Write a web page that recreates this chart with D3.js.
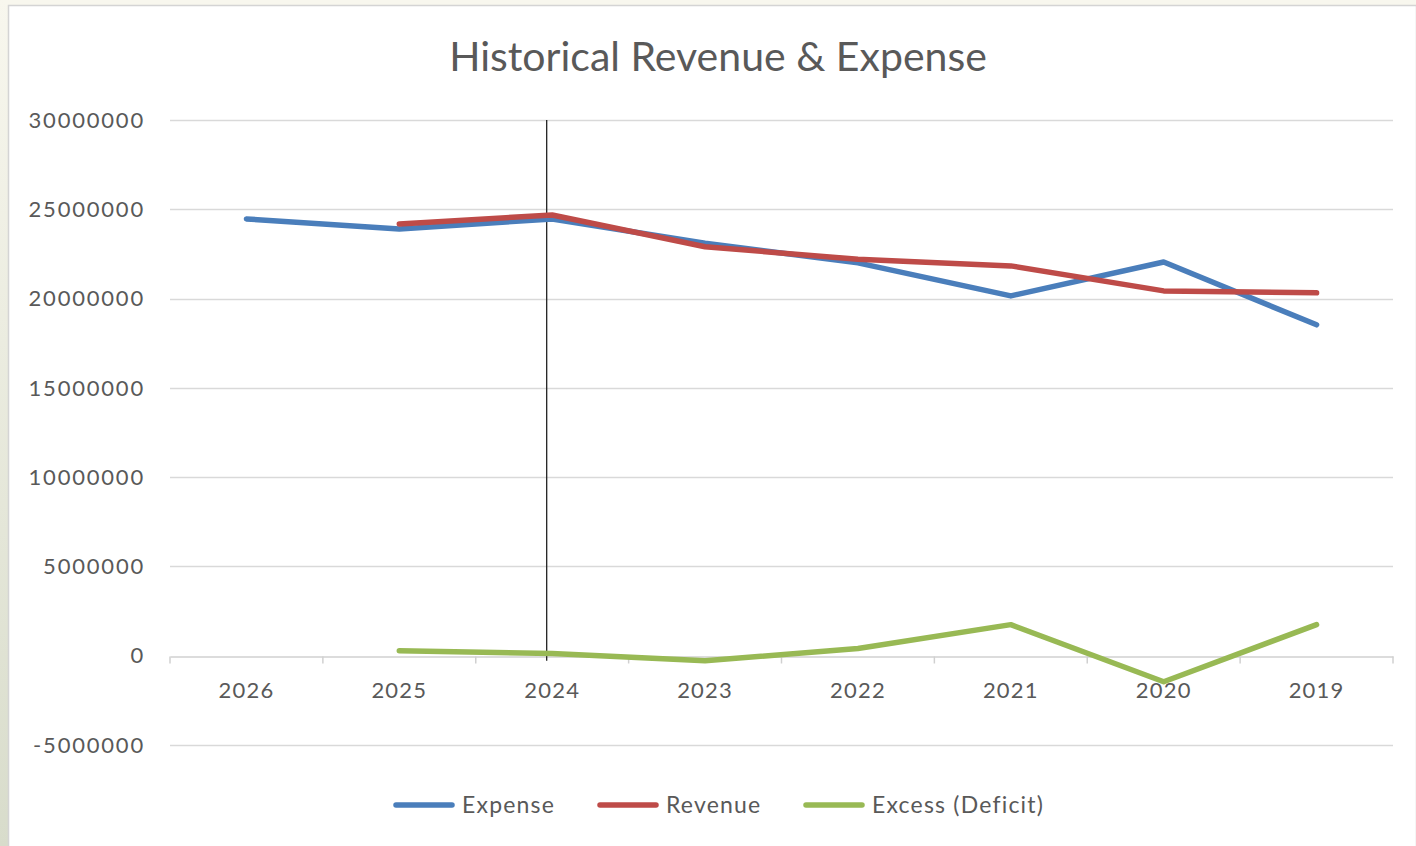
<!DOCTYPE html>
<html>
<head>
<meta charset="utf-8">
<script src="https://cdn.jsdelivr.net/npm/d3@7"></script>
<style>
  html, body { margin: 0; padding: 0; background: #f8f7ee; }
  svg { display: block; }
</style>
</head>
<body>
<svg id="chart" width="1416" height="846"></svg>
<script>
// ---- data ----
const categories = ["2026", "2025", "2024", "2023", "2022", "2021", "2020", "2019"];
const expense = [24460000, 23900000, 24460000, 23100000, 22000000, 20150000, 22050000, 18530000];
const revenue = [null, 24180000, 24680000, 22900000, 22200000, 21830000, 20430000, 20320000];
const excess  = [null, 280000, 120000, -280000, 400000, 1740000, -1460000, 1740000];
const yTicks = [-5000000, 0, 5000000, 10000000, 15000000, 20000000, 25000000, 30000000];
const seriesNames = ["Expense", "Revenue", "Excess (Deficit)"];
const seriesColors = ["#4a7ebb", "#be4b48", "#98b954"];
const markerCategory = "2024";

// ---- layout ----
const W = 1416, H = 846;
const plot = { left: 170, right: 1393, top: 120, bottom: 745 };
const svg = d3.select("#chart");

// background panel
svg.append("rect").attr("x", 0).attr("y", 0).attr("width", W).attr("height", H).attr("fill", "#f8f7ee");
const grad = svg.append("defs").append("linearGradient").attr("id", "lg").attr("x1", 0).attr("y1", 0).attr("x2", 0).attr("y2", 1);
grad.append("stop").attr("offset", "0%").attr("stop-color", "#f8f7ee");
grad.append("stop").attr("offset", "100%").attr("stop-color", "#d8dccb");
svg.append("rect").attr("x", 0).attr("y", 0).attr("width", 8).attr("height", H).attr("fill", "url(#lg)");
svg.append("rect").attr("x", 8.5).attr("y", 5.5).attr("width", W - 8).attr("height", H)
  .attr("fill", "#ffffff").attr("stroke", "#d4d4d4").attr("stroke-width", 1.5);

const x = d3.scaleBand().domain(categories).range([plot.left, plot.right]).paddingInner(0).paddingOuter(0);
const y = d3.scaleLinear().domain([-5000000, 30000000]).range([plot.bottom, plot.top]);
const cx = c => x(c) + x.bandwidth() / 2;

// gridlines
svg.append("g").selectAll("line").data(yTicks.filter(v => v !== 0)).join("line")
  .attr("x1", plot.left).attr("x2", plot.right)
  .attr("y1", d => Math.round(y(d)) + 0.5).attr("y2", d => Math.round(y(d)) + 0.5)
  .attr("stroke", "#d9d9d9").attr("stroke-width", 1.3);

// y tick labels
const fontFamily = "Lato, 'Open Sans', sans-serif";
svg.append("g").selectAll("text").data(yTicks).join("text")
  .attr("x", 145).attr("y", d => y(d))
  .attr("dy", "0.35em")
  .attr("text-anchor", "end")
  .attr("font-family", fontFamily).attr("font-size", 22)
  .attr("letter-spacing", 1.8)
  .attr("fill", "#595959")
  .text(d => String(d));

// x axis at zero
const xAxis = d3.axisBottom(x).tickSize(0).tickFormat("");
const axG = svg.append("g").attr("transform", `translate(0,${Math.round(y(0)) + 0.5})`).call(xAxis);
axG.select(".domain").attr("stroke", "#d0d0d0").attr("stroke-width", 1.5);
// category boundary ticks
const bounds = categories.map(c => x(c)).concat([plot.right]);
axG.selectAll(".bt").data(bounds).join("line").attr("class", "bt")
  .attr("x1", d => d).attr("x2", d => d).attr("y1", 0).attr("y2", 7)
  .attr("stroke", "#d0d0d0").attr("stroke-width", 1.5);
// category labels
svg.append("g").selectAll("text").data(categories).join("text")
  .attr("x", d => cx(d)).attr("y", y(0) + 42)
  .attr("text-anchor", "middle")
  .attr("font-family", fontFamily).attr("font-size", 22)
  .attr("letter-spacing", 1.2)
  .attr("fill", "#595959")
  .text(d => d);

// marker vertical line
svg.append("line")
  .attr("x1", cx(markerCategory) - 5.5).attr("x2", cx(markerCategory) - 5.5)
  .attr("y1", y(30000000)).attr("y2", y(0) + 5)
  .attr("stroke", "#222").attr("stroke-width", 1.3);

// series lines
const allSeries = [expense, revenue, excess];
const line = d3.line()
  .defined(d => d.v !== null)
  .x(d => cx(d.c)).y(d => y(d.v));
allSeries.forEach((vals, i) => {
  const pts = categories.map((c, j) => ({ c, v: vals[j] }));
  svg.append("path").datum(pts)
    .attr("d", line)
    .attr("fill", "none")
    .attr("stroke", seriesColors[i])
    .attr("stroke-width", 5.5)
    .attr("stroke-linejoin", "round")
    .attr("stroke-linecap", "round");
});

// title
svg.append("text")
  .attr("x", 718).attr("y", 71)
  .attr("text-anchor", "middle")
  .attr("font-family", fontFamily).attr("font-size", 41)
  .attr("fill", "#595959")
  .text("Historical Revenue & Expense");

// legend
const legendX = [396, 600, 806];
const lg = svg.append("g");
seriesNames.forEach((name, i) => {
  lg.append("line")
    .attr("x1", legendX[i]).attr("x2", legendX[i] + 56)
    .attr("y1", 805).attr("y2", 805)
    .attr("stroke", seriesColors[i]).attr("stroke-width", 5.5)
    .attr("stroke-linecap", "round");
  lg.append("text")
    .attr("x", legendX[i] + 66).attr("y", 805).attr("dy", "0.35em")
    .attr("font-family", fontFamily).attr("font-size", 23)
    .attr("letter-spacing", 1.2)
    .attr("fill", "#595959")
    .text(name);
});
</script>
</body>
</html>
